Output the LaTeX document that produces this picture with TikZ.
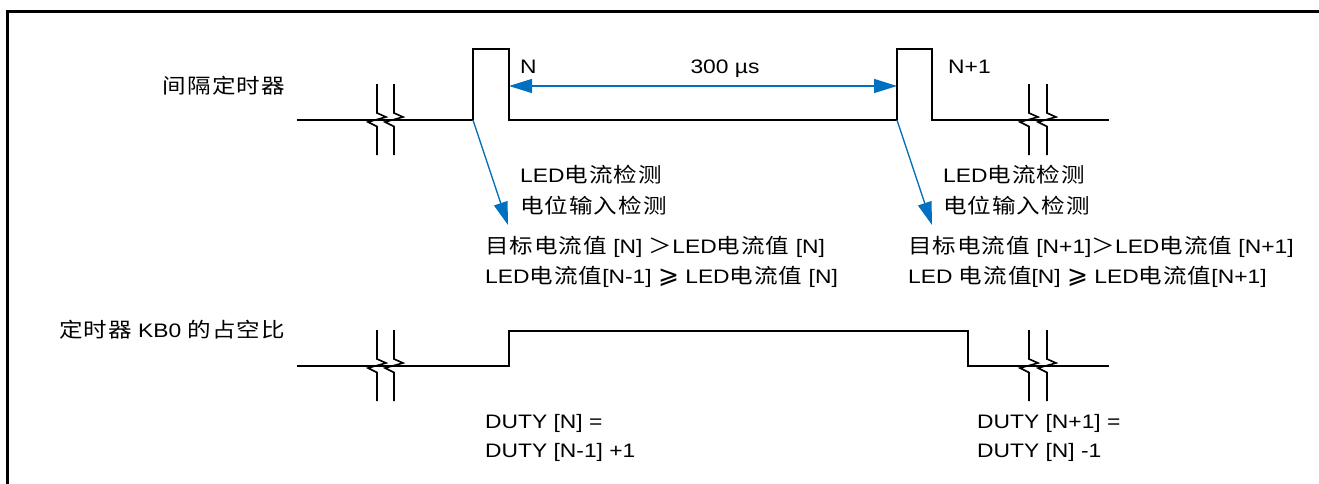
\documentclass[tikz,border=0pt]{standalone}
\usepackage{fontspec}
\setmainfont{Liberation Sans}[FakeStretch=1.17]
\newfontfamily\cjk{Noto Sans CJK SC}[Scale=1.05,FakeStretch=1.15,LetterSpace=5]
\newfontfamily\symf{DejaVu Sans}
\newcommand{\zh}[1]{{\cjk #1}}
\newcommand{\geqs}{{\symf\fontsize{25}{25}\selectfont ⩾}}
\usetikzlibrary{arrows.meta}
\definecolor{arrowblue}{RGB}{0,112,192}
\begin{document}
\begin{tikzpicture}[x=1pt,y=-1pt,
  sig/.style={line width=1.6pt,black,line join=miter},
  blu/.style={line width=1.4pt,draw=arrowblue},
  tip/.style={-{Triangle[length=23pt,width=14pt,fill=arrowblue]}},
  txt/.style={inner sep=0pt,font=\fontsize{19.5}{22}\selectfont},
  brk/.pic={\draw[sig] (0,-36) -- (0,-7) -- (9,-3) -- (-9,2) -- (0,6.5) -- (0,35);}]
\useasboundingbox (0,0) rectangle (1319,483);
\draw[line width=3pt] (7,490) -- (7,11) -- (1325,11);
% upper waveform
\coordinate (a0) at (297,120);
\coordinate (p1l) at (473,120);
\coordinate (p1lt) at (473,49);
\coordinate (p1rt) at (509,49);
\coordinate (p1r) at (509,120);
\coordinate (p2l) at (897,120);
\coordinate (p2lt) at (897,49);
\coordinate (p2rt) at (932,49);
\coordinate (p2r) at (932,120);
\coordinate (a1) at (1109,120);
\draw[sig] (a0) -- (p1l) -- (p1lt) -- (p1rt) -- (p1r) -- (p2l) -- (p2lt) -- (p2rt) -- (p2r) -- (a1);
\pic at (377,120) {brk};
\pic at (394,120) {brk};
\pic at (1029,120) {brk};
\pic at (1047,120) {brk};
% lower waveform
\coordinate (b0) at (297,366);
\coordinate (r1) at (509,366);
\coordinate (r1t) at (509,331);
\coordinate (f1t) at (968,331);
\coordinate (f1) at (968,366);
\coordinate (b1) at (1109,366);
\draw[sig] (b0) -- (r1) -- (r1t) -- (f1t) -- (f1) -- (b1);
\pic at (377,366) {brk};
\pic at (394,366) {brk};
\pic at (1029,366) {brk};
\pic at (1047,366) {brk};
% 300 us arrow
\coordinate (h1) at (509,86);
\coordinate (h2) at (897,86);
\draw[blu,{Triangle[length=23pt,width=14pt,fill=arrowblue]}-{Triangle[length=23pt,width=14pt,fill=arrowblue]}] (h1) -- (h2);
\node[txt,anchor=base] (us) at (725,73) {300 µs};
\node[txt,anchor=base west] (nN) at (520,73) {N};
\node[txt,anchor=base west] (nN1) at (948,73) {N+1};
% diagonal arrows
\coordinate (t1) at (508,225);
\coordinate (t2) at (932,225);
\draw[blu,tip] (p1l) -- (t1);
\draw[blu,tip] (p2l) -- (t2);
% labels
\node[txt,anchor=base east] (lab1) at (285,93) {\zh{间隔定时器}};
\node[txt,anchor=base east] (lab2) at (285,337) {\zh{定时器} KB0 \zh{的占空比}};
\node[txt,anchor=base west] (l1a) at (520,182) {LED\zh{电流检测}};
\node[txt,anchor=base west] (l1b) at (520,213) {\zh{电位输入检测}};
\node[txt,anchor=base west] (l1c) at (485,253) {\zh{目标电流值} [N] \zh{＞}LED\zh{电流值} [N]};
\node[txt,anchor=base west] (l1d) at (485,283) {LED\zh{电流值}[N-1] \geqs{} LED\zh{电流值} [N]};
\node[txt,anchor=base west] (l2a) at (943,182) {LED\zh{电流检测}};
\node[txt,anchor=base west] (l2b) at (943,213) {\zh{电位输入检测}};
\node[txt,anchor=base west] (l2c) at (908,253) {\zh{目标电流值} [N+1]\zh{＞}LED\zh{电流值} [N+1]};
\node[txt,anchor=base west] (l2d) at (908,283) {LED \zh{电流值}[N] \geqs{} LED\zh{电流值}[N+1]};
\node[txt,anchor=base west] (d1a) at (485,428) {DUTY [N] =};
\node[txt,anchor=base west] (d1b) at (485,457) {DUTY [N-1] +1};
\node[txt,anchor=base west] (d2a) at (977,428) {DUTY [N+1] =};
\node[txt,anchor=base west] (d2b) at (977,457) {DUTY [N] -1};
\end{tikzpicture}
\end{document}
